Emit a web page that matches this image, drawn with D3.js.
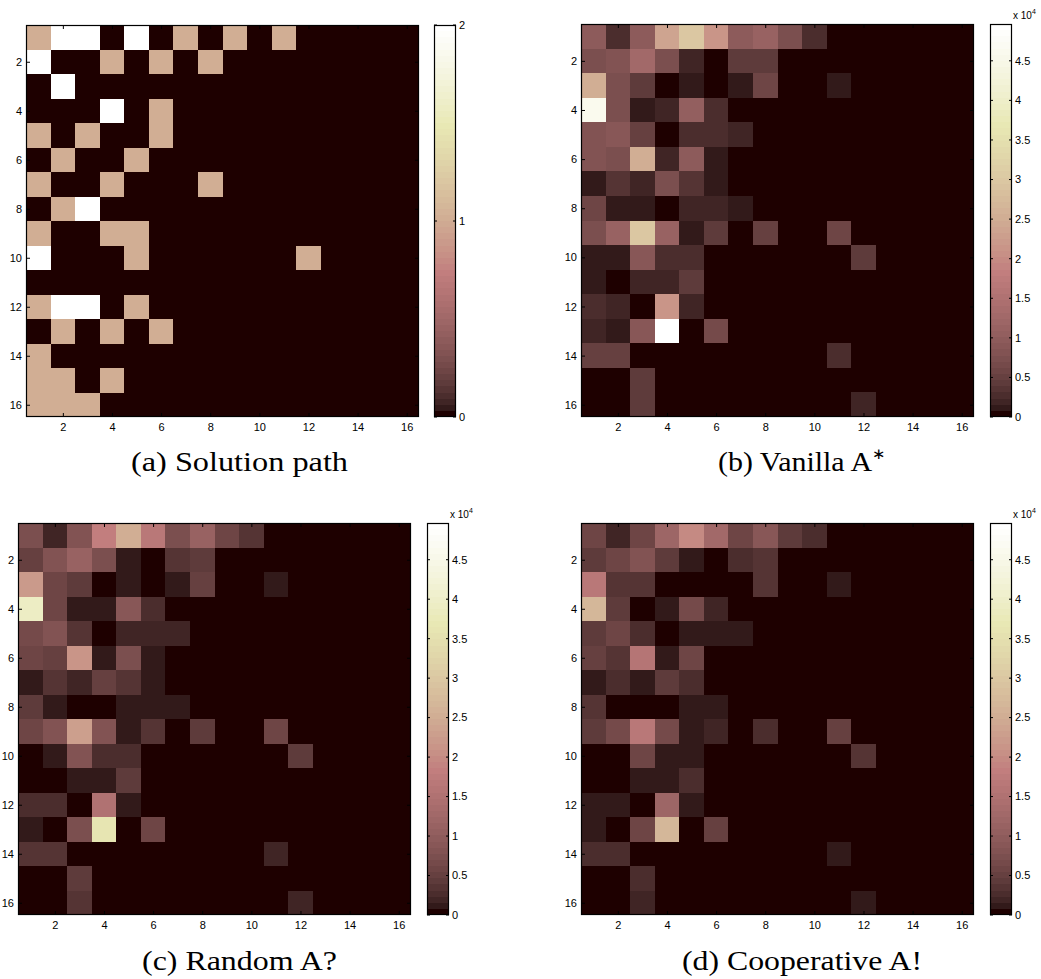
<!DOCTYPE html>
<html>
<head>
<meta charset="utf-8">
<script src="https://cdn.jsdelivr.net/npm/d3@7/dist/d3.min.js"></script>
<style>
  body { margin: 0; background: #fff; }
  svg text { font-family: "Liberation Sans", Arial, sans-serif; }
</style>
</head>
<body>
<svg id="fig" width="1041" height="979"></svg>
<script>
// grid cells are 1..16 on both axes
const gridIdx = [1, 2, 3, 4, 5, 6, 7, 8, 9, 10, 11, 12, 13, 14, 15, 16];
const axisTicks = [2, 4, 6, 8, 10, 12, 14, 16];

// (a) solution path, 0 / 1 / 2
const solutionPath = [
  [1, 2, 2, 0, 2, 0, 1, 0, 1, 0, 1, 0, 0, 0, 0, 0],
  [2, 0, 0, 1, 0, 1, 0, 1, 0, 0, 0, 0, 0, 0, 0, 0],
  [0, 2, 0, 0, 0, 0, 0, 0, 0, 0, 0, 0, 0, 0, 0, 0],
  [0, 0, 0, 2, 0, 1, 0, 0, 0, 0, 0, 0, 0, 0, 0, 0],
  [1, 0, 1, 0, 0, 1, 0, 0, 0, 0, 0, 0, 0, 0, 0, 0],
  [0, 1, 0, 0, 1, 0, 0, 0, 0, 0, 0, 0, 0, 0, 0, 0],
  [1, 0, 0, 1, 0, 0, 0, 1, 0, 0, 0, 0, 0, 0, 0, 0],
  [0, 1, 2, 0, 0, 0, 0, 0, 0, 0, 0, 0, 0, 0, 0, 0],
  [1, 0, 0, 1, 1, 0, 0, 0, 0, 0, 0, 0, 0, 0, 0, 0],
  [2, 0, 0, 0, 1, 0, 0, 0, 0, 0, 0, 1, 0, 0, 0, 0],
  [0, 0, 0, 0, 0, 0, 0, 0, 0, 0, 0, 0, 0, 0, 0, 0],
  [1, 2, 2, 0, 1, 0, 0, 0, 0, 0, 0, 0, 0, 0, 0, 0],
  [0, 1, 0, 1, 0, 1, 0, 0, 0, 0, 0, 0, 0, 0, 0, 0],
  [1, 0, 0, 0, 0, 0, 0, 0, 0, 0, 0, 0, 0, 0, 0, 0],
  [1, 1, 0, 1, 0, 0, 0, 0, 0, 0, 0, 0, 0, 0, 0, 0],
  [1, 1, 1, 0, 0, 0, 0, 0, 0, 0, 0, 0, 0, 0, 0, 0]
];

// (b)-(d) expanded nodes, in units of 10^4
const vanillaA = [
  [0.95, 0.25, 0.95, 2.35, 2.95, 2.15, 0.95, 1.15, 0.7, 0.3, 0, 0, 0, 0, 0, 0],
  [0.7, 0.85, 1.25, 0.75, 0.18, 0, 0.45, 0.45, 0, 0, 0, 0, 0, 0, 0, 0],
  [2.55, 0.75, 0.4, 0, 0.12, 0, 0.12, 0.55, 0, 0, 0.14, 0, 0, 0, 0, 0],
  [4.6, 0.75, 0.1, 0.18, 1.05, 0.28, 0, 0, 0, 0, 0, 0, 0, 0, 0, 0],
  [0.85, 0.9, 0.5, 0, 0.28, 0.28, 0.22, 0, 0, 0, 0, 0, 0, 0, 0, 0],
  [0.85, 0.7, 2.55, 0.18, 0.95, 0.12, 0, 0, 0, 0, 0, 0, 0, 0, 0, 0],
  [0.1, 0.35, 0.18, 0.75, 0.35, 0.1, 0, 0, 0, 0, 0, 0, 0, 0, 0, 0],
  [0.55, 0.1, 0.1, 0, 0.22, 0.22, 0.12, 0, 0, 0, 0, 0, 0, 0, 0, 0],
  [0.7, 1.15, 2.95, 1.1, 0.12, 0.45, 0, 0.5, 0, 0, 0.55, 0, 0, 0, 0, 0],
  [0.12, 0.12, 0.9, 0.28, 0.28, 0, 0, 0, 0, 0, 0, 0.4, 0, 0, 0, 0],
  [0.12, 0, 0.22, 0.22, 0.4, 0, 0, 0, 0, 0, 0, 0, 0, 0, 0, 0],
  [0.3, 0.18, 0, 2.1, 0.18, 0, 0, 0, 0, 0, 0, 0, 0, 0, 0, 0],
  [0.22, 0.12, 0.9, 4.965, 0, 0.65, 0, 0, 0, 0, 0, 0, 0, 0, 0, 0],
  [0.5, 0.5, 0, 0, 0, 0, 0, 0, 0, 0, 0.28, 0, 0, 0, 0, 0],
  [0, 0, 0.45, 0, 0, 0, 0, 0, 0, 0, 0, 0, 0, 0, 0, 0],
  [0, 0, 0.4, 0, 0, 0, 0, 0, 0, 0, 0, 0.18, 0, 0, 0, 0]
];

const randomA = [
  [0.75, 0.18, 0.8, 1.8, 2.5, 1.7, 0.75, 1.1, 0.6, 0.35, 0, 0, 0, 0, 0, 0],
  [0.5, 0.8, 1.1, 0.7, 0.12, 0, 0.35, 0.45, 0, 0, 0, 0, 0, 0, 0, 0],
  [2.2, 0.55, 0.4, 0, 0.12, 0, 0.12, 0.5, 0, 0, 0.14, 0, 0, 0, 0, 0],
  [3.9, 0.6, 0.12, 0.12, 0.9, 0.28, 0, 0, 0, 0, 0, 0, 0, 0, 0, 0],
  [0.65, 0.85, 0.35, 0, 0.22, 0.22, 0.22, 0, 0, 0, 0, 0, 0, 0, 0, 0],
  [0.6, 0.5, 2.1, 0.12, 0.75, 0.12, 0, 0, 0, 0, 0, 0, 0, 0, 0, 0],
  [0.12, 0.35, 0.2, 0.5, 0.35, 0.12, 0, 0, 0, 0, 0, 0, 0, 0, 0, 0],
  [0.4, 0.12, 0, 0, 0.12, 0.12, 0.12, 0, 0, 0, 0, 0, 0, 0, 0, 0],
  [0.55, 0.85, 2.3, 0.85, 0.12, 0.35, 0, 0.4, 0, 0, 0.6, 0, 0, 0, 0, 0],
  [0, 0.12, 0.8, 0.28, 0.28, 0, 0, 0, 0, 0, 0, 0.4, 0, 0, 0, 0],
  [0, 0, 0.12, 0.12, 0.4, 0, 0, 0, 0, 0, 0, 0, 0, 0, 0, 0],
  [0.28, 0.28, 0, 1.5, 0.12, 0, 0, 0, 0, 0, 0, 0, 0, 0, 0, 0],
  [0.12, 0, 0.75, 3.6, 0, 0.6, 0, 0, 0, 0, 0, 0, 0, 0, 0, 0],
  [0.35, 0.35, 0, 0, 0, 0, 0, 0, 0, 0, 0.2, 0, 0, 0, 0, 0],
  [0, 0, 0.4, 0, 0, 0, 0, 0, 0, 0, 0, 0, 0, 0, 0, 0],
  [0, 0, 0.32, 0, 0, 0, 0, 0, 0, 0, 0, 0.18, 0, 0, 0, 0]
];

const cooperativeA = [
  [0.6, 0.22, 0.6, 1.2, 2.0, 1.25, 0.55, 0.9, 0.45, 0.28, 0, 0, 0, 0, 0, 0],
  [0.4, 0.55, 0.8, 0.45, 0.12, 0, 0.3, 0.38, 0, 0, 0, 0, 0, 0, 0, 0],
  [1.65, 0.38, 0.38, 0, 0, 0, 0, 0.32, 0, 0, 0.14, 0, 0, 0, 0, 0],
  [2.65, 0.45, 0, 0.12, 0.65, 0.22, 0, 0, 0, 0, 0, 0, 0, 0, 0, 0],
  [0.45, 0.6, 0.28, 0, 0.13, 0.13, 0.13, 0, 0, 0, 0, 0, 0, 0, 0, 0],
  [0.5, 0.35, 1.6, 0.12, 0.6, 0, 0, 0, 0, 0, 0, 0, 0, 0, 0, 0],
  [0.12, 0.28, 0.12, 0.4, 0.28, 0, 0, 0, 0, 0, 0, 0, 0, 0, 0, 0],
  [0.35, 0, 0, 0, 0.13, 0.13, 0, 0, 0, 0, 0, 0, 0, 0, 0, 0],
  [0.4, 0.65, 1.65, 0.65, 0.12, 0.2, 0, 0.28, 0, 0, 0.5, 0, 0, 0, 0, 0],
  [0, 0, 0.6, 0.13, 0.13, 0, 0, 0, 0, 0, 0, 0.32, 0, 0, 0, 0],
  [0, 0, 0.13, 0.13, 0.28, 0, 0, 0, 0, 0, 0, 0, 0, 0, 0, 0],
  [0.13, 0.13, 0, 1.2, 0.13, 0, 0, 0, 0, 0, 0, 0, 0, 0, 0, 0],
  [0.13, 0, 0.55, 2.65, 0, 0.5, 0, 0, 0, 0, 0, 0, 0, 0, 0, 0],
  [0.3, 0.3, 0, 0, 0, 0, 0, 0, 0, 0, 0.12, 0, 0, 0, 0, 0],
  [0, 0, 0.28, 0, 0, 0, 0, 0, 0, 0, 0, 0, 0, 0, 0, 0],
  [0, 0, 0.2, 0, 0, 0, 0, 0, 0, 0, 0, 0.12, 0, 0, 0, 0]
];

const pathTicks = [0, 1, 2];
const heatTicks = [0, 0.5, 1, 1.5, 2, 2.5, 3, 3.5, 4, 4.5];
const heatMax = 4.965;

// MATLAB "pink" colormap, 64 levels: sqrt((2*gray + hot)/3)
const nLevels = 64;
const pinkColors = d3.range(nLevels).map(i => {
  const n = Math.floor(3 / 8 * nLevels);
  const g = i / (nLevels - 1);
  const hr = i < n ? (i + 1) / n : 1;
  const hg = i < n ? 0 : (i < 2 * n ? (i - n + 1) / n : 1);
  const hb = i < 2 * n ? 0 : (i - 2 * n + 1) / (nLevels - 2 * n);
  const f = v => Math.round(255 * Math.sqrt((2 * g + v) / 3));
  return d3.rgb(f(hr), f(hg), f(hb)).formatHex();
});

const panels = [
  { data: solutionPath, max: 2, ticks: pathTicks, exp: false,
    x0: 26, x1: 419, y0: 25, y1: 417, cb: [434, 456],
    caption: ['(a) Solution path', ''], cx: 239.5, cy: 471, cw: 217 },
  { data: vanillaA, max: heatMax, ticks: heatTicks, exp: true,
    x0: 581, x1: 974, y0: 24, y1: 417, cb: [990, 1012],
    caption: ['(b) Vanilla A', '∗'], cx: 802, cy: 471, cw: 168 },
  { data: randomA, max: heatMax, ticks: heatTicks, exp: true,
    x0: 18, x1: 411, y0: 523, y1: 915, cb: [427, 449],
    caption: ['(c) Random A?', ''], cx: 239.5, cy: 970, cw: 195 },
  { data: cooperativeA, max: heatMax, ticks: heatTicks, exp: true,
    x0: 581, x1: 974, y0: 523, y1: 915, cb: [990, 1012],
    caption: ['(d) Cooperative A!', ''], cx: 802, cy: 970, cw: 240 }
];

const svg = d3.select('#fig');
const tickLen = 4;

panels.forEach(p => {
  const g = svg.append('g');
  const color = d3.scaleQuantize().domain([0, p.max]).range(pinkColors);
  const xb = d3.scaleBand().domain(gridIdx).range([p.x0, p.x1]);
  const yb = d3.scaleBand().domain(gridIdx).range([p.y0, p.y1]);
  const xl = d3.scaleLinear().domain([0.5, 16.5]).range([p.x0, p.x1]);
  const yl = d3.scaleLinear().domain([0.5, 16.5]).range([p.y0, p.y1]);

  // cells
  const cells = p.data.flatMap((row, r) => row.map((v, c) => ({ r: gridIdx[r], c: gridIdx[c], v })));
  g.selectAll('rect.cell').data(cells).join('rect')
    .attr('class', 'cell')
    .attr('x', d => Math.round(xb(d.c)))
    .attr('y', d => Math.round(yb(d.r)))
    .attr('width', d => Math.round(xb(d.c) + xb.bandwidth()) - Math.round(xb(d.c)))
    .attr('height', d => Math.round(yb(d.r) + yb.bandwidth()) - Math.round(yb(d.r)))
    .attr('shape-rendering', 'crispEdges')
    .attr('fill', d => color(Math.min(d.v, p.max - 1e-9)));

  // axes, MATLAB style ticks pointing inwards
  const styleAxis = sel => {
    sel.select('.domain').remove();
    sel.selectAll('line').attr('stroke', '#000');
    sel.selectAll('text').attr('fill', '#000').style('font-size', '11px');
  };
  g.append('g').attr('transform', `translate(0,${p.y1})`)
    .call(d3.axisBottom(xl).tickValues(axisTicks).tickSize(-tickLen).tickPadding(6)).call(styleAxis);
  g.append('g').attr('transform', `translate(0,${p.y0})`)
    .call(d3.axisTop(xl).tickValues(axisTicks).tickSize(-tickLen).tickFormat('')).call(styleAxis);
  g.append('g').attr('transform', `translate(${p.x0},0)`)
    .call(d3.axisLeft(yl).tickValues(axisTicks).tickSize(-tickLen).tickPadding(4)).call(styleAxis);
  g.append('g').attr('transform', `translate(${p.x1},0)`)
    .call(d3.axisRight(yl).tickValues(axisTicks).tickSize(-tickLen).tickFormat('')).call(styleAxis);

  g.append('rect')
    .attr('x', p.x0 + 0.5).attr('y', p.y0 + 0.5)
    .attr('width', p.x1 - p.x0 - 1).attr('height', p.y1 - p.y0 - 1)
    .attr('fill', 'none').attr('stroke', '#000').attr('stroke-width', 1.2);

  // colorbar
  const [cbL, cbR] = p.cb;
  const cbScale = d3.scaleLinear().domain([0, p.max]).range([p.y1, p.y0]);
  const bandY = d3.scaleLinear().domain([0, nLevels]).range([p.y1, p.y0]);
  g.selectAll('rect.band').data(pinkColors).join('rect')
    .attr('class', 'band')
    .attr('x', cbL).attr('width', cbR - cbL)
    .attr('y', (d, i) => Math.round(bandY(i + 1)))
    .attr('height', (d, i) => Math.round(bandY(i)) - Math.round(bandY(i + 1)))
    .attr('shape-rendering', 'crispEdges')
    .attr('fill', d => d);

  const cbg = g.append('g');
  cbg.selectAll('line.tl').data(p.ticks).join('line')
    .attr('x1', cbL).attr('x2', cbL + 3)
    .attr('y1', d => cbScale(d)).attr('y2', d => cbScale(d))
    .attr('stroke', '#000');
  cbg.selectAll('line.tr').data(p.ticks).join('line')
    .attr('x1', cbR - 3).attr('x2', cbR)
    .attr('y1', d => cbScale(d)).attr('y2', d => cbScale(d))
    .attr('stroke', '#000');
  cbg.selectAll('text').data(p.ticks).join('text')
    .attr('x', cbR + 3)
    .attr('y', d => cbScale(d))
    .attr('dy', '0.35em')
    .style('font-size', '11px')
    .text(d => d3.format('~g')(d));

  g.append('rect')
    .attr('x', cbL + 0.5).attr('y', p.y0 + 0.5)
    .attr('width', cbR - cbL - 1).attr('height', p.y1 - p.y0 - 1)
    .attr('fill', 'none').attr('stroke', '#000').attr('stroke-width', 1.2);

  if (p.exp) {
    const t = g.append('text').attr('x', cbR + 1).attr('y', p.y0 - 5).style('font-size', '10px');
    t.append('tspan').text('x 10');
    t.append('tspan').attr('dy', -5).style('font-size', '7px').text('4');
  }

  // caption
  const cap = g.append('text')
    .attr('x', p.cx).attr('y', p.cy)
    .attr('text-anchor', 'middle')
    .style('font-family', '"Liberation Serif", "Times New Roman", serif')
    .style('font-size', '28px')
    .attr('textLength', p.cw)
    .attr('lengthAdjust', 'spacingAndGlyphs');
  cap.append('tspan').text(p.caption[0]);
  if (p.caption[1]) {
    cap.append('tspan').attr('dy', -12).style('font-size', '15px').text(p.caption[1]);
  }
});
</script>
</body>
</html>
